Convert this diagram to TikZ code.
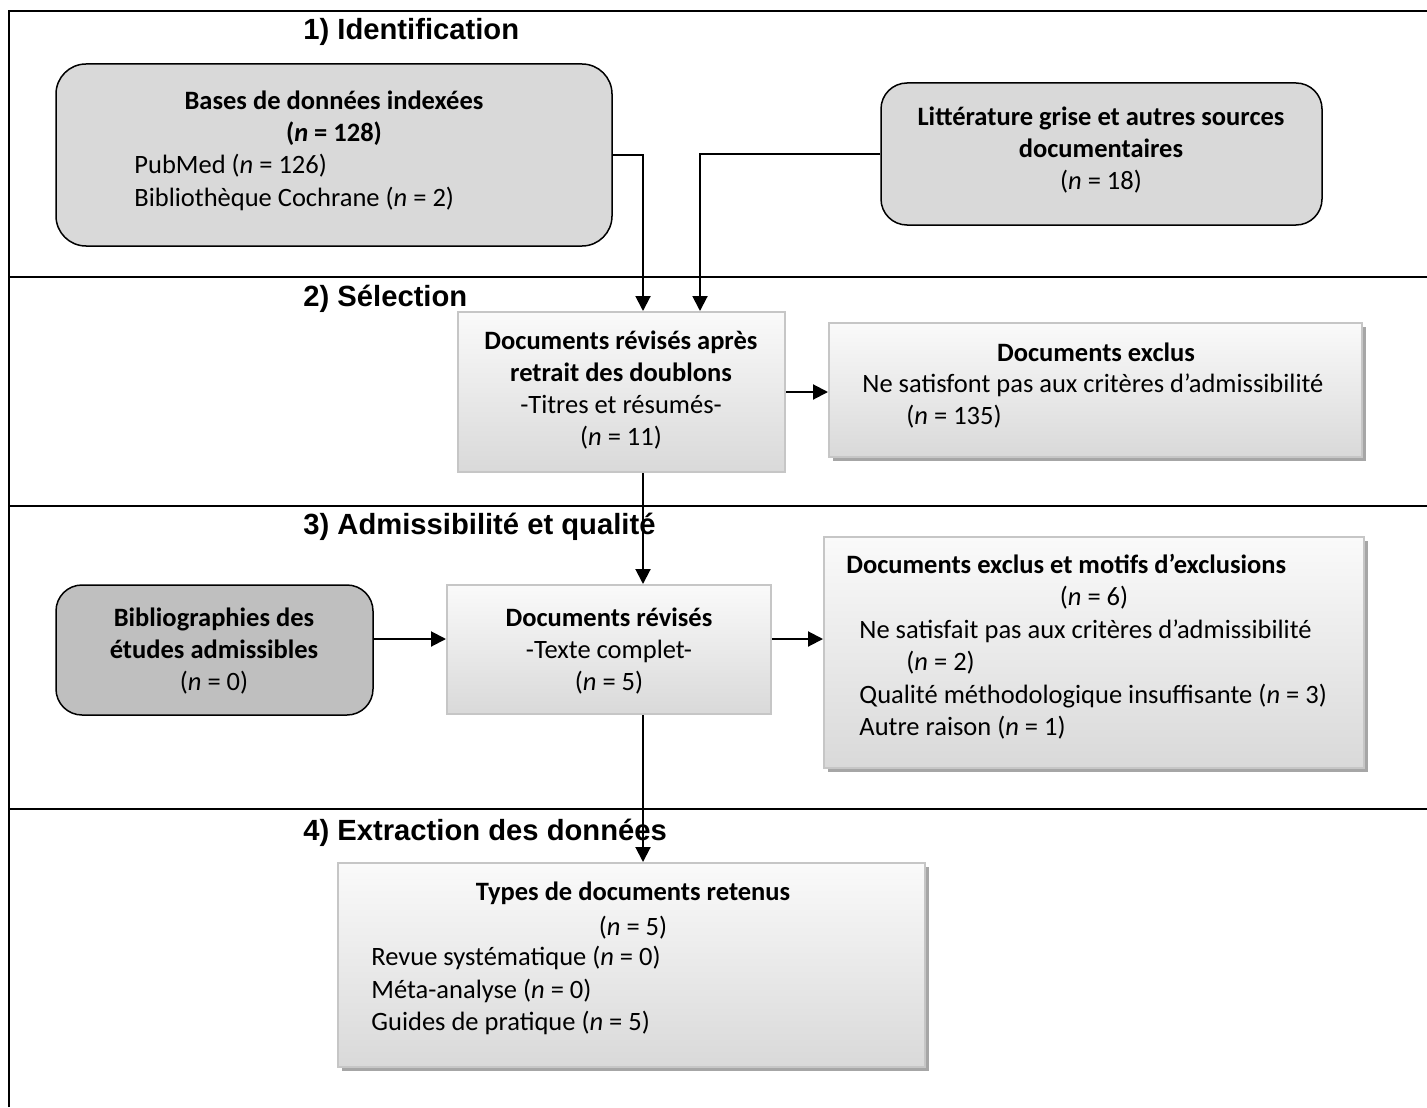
\documentclass[tikz,border=0pt]{standalone}
\usepackage{fontspec}
\setmainfont{Carlito}
\newfontfamily\headfont{Liberation Sans}
\usetikzlibrary{arrows.meta,shadows,calc}
\definecolor{boxgray}{HTML}{D9D9D9}
\definecolor{darkboxgray}{HTML}{BFBFBF}
\definecolor{edgegray}{HTML}{C6C6C6}
\definecolor{shadowgray}{HTML}{A6A6A6}
\definecolor{topgray}{HTML}{FAFAFA}
\definecolor{botgray}{HTML}{D9D9D9}
\begin{document}
\begin{tikzpicture}[x=0.5pt,y=-0.5pt,
 txt/.style={inner sep=0pt, font=\fontsize{13.25}{16}\selectfont},
 btxt/.style={inner sep=0pt, font=\fontsize{13.25}{16}\selectfont\bfseries},
 head/.style={inner sep=0pt, font=\fontsize{14.6}{17}\selectfont\headfont\bfseries, anchor=base west},
 rbox/.style={draw=black, line width=0.75pt, rounded corners=15pt, fill=boxgray, inner sep=0pt},
 gbox/.style={draw=edgegray, line width=1pt, top color=topgray, bottom color=botgray, inner sep=0pt},
 sbox/.style={gbox, drop shadow={shadow xshift=2pt, shadow yshift=-2pt, fill=shadowgray, opacity=1}},
 arr/.style={line width=1pt, -{Triangle[length=7.5pt,width=7.5pt]}},
 framelines/.style={line width=1.4pt}]
\useasboundingbox (0,0) rectangle (1427,1107);

% frame
\draw[framelines] (9,1107) -- (9,11) -- (1427,11);
\draw[framelines] (9,277) -- (1427,277);
\draw[framelines] (9,506) -- (1427,506);
\draw[framelines] (9,809) -- (1427,809);

% headings
\node[head] (t1) at (303,40) {1) Identification};
\node[head] (t2) at (303,306) {2) Sélection};
\node[head] (t3) at (303,534) {3) Admissibilité et qualité};
\node[head] (t4) at (303,840) {4) Extraction des données};

% boxes
\node[rbox, minimum width=278pt, minimum height=91pt] (A) at (334,155) {};
\node[rbox, rounded corners=13pt, minimum width=220.5pt, minimum height=71pt] (B) at (1101.5,154) {};
\node[gbox, minimum width=163.5pt, minimum height=80pt] (C) at (621.5,392) {};
\node[sbox, minimum width=266.5pt, minimum height=67pt] (D) at (1095.5,390) {};
\node[rbox, rounded corners=13pt, fill=darkboxgray, minimum width=158.5pt, minimum height=65pt] (E) at (214.5,650) {};
\node[gbox, minimum width=162pt, minimum height=64.5pt] (F) at (609,649.5) {};
\node[sbox, minimum width=270pt, minimum height=115.5pt] (G) at (1094,652.5) {};
\node[sbox, minimum width=293.5pt, minimum height=102pt] (H) at (631.5,965) {};

% texts A
\node[btxt, anchor=base] (a1) at (334,110) {Bases de données indexées};
\node[btxt, anchor=base] (a2) at (334,142) {(\textit{n} = 128)};
\node[txt, anchor=base west] (a3) at (134,174) {PubMed (\textit{n} = 126)};
\node[txt, anchor=base west] (a4) at (134,206) {Bibliothèque Cochrane (\textit{n} = 2)};
% texts B
\node[btxt, anchor=base] (b1) at (1101,126) {Littérature grise et autres sources};
\node[btxt, anchor=base] (b2) at (1101,158) {documentaires};
\node[txt, anchor=base] (b3) at (1101,190) {(\textit{n} = 18)};
% texts C
\node[btxt, anchor=base] (c1) at (621,349) {Documents révisés après};
\node[btxt, anchor=base] (c2) at (621,381) {retrait des doublons};
\node[txt, anchor=base] (c3) at (621,413) {-Titres et résumés-};
\node[txt, anchor=base] (c4) at (621,445) {(\textit{n} = 11)};
% texts D
\node[btxt, anchor=base] (d1) at (1096,361) {Documents exclus};
\node[txt, anchor=base west] (d2) at (862,392) {Ne satisfont pas aux critères d’admissibilité};
\node[txt, anchor=base west] (d3) at (906,424) {(\textit{n} = 135)};
% texts E
\node[btxt, anchor=base] (e1) at (214,626) {Bibliographies des};
\node[btxt, anchor=base] (e2) at (214,658) {études admissibles};
\node[txt, anchor=base] (e3) at (214,690) {(\textit{n} = 0)};
% texts F
\node[btxt, anchor=base] (f1) at (609,626) {Documents révisés};
\node[txt, anchor=base] (f2) at (609,658) {-Texte complet-};
\node[txt, anchor=base] (f3) at (609,690) {(\textit{n} = 5)};
% texts G
\node[btxt, anchor=base west] (g1) at (846,573) {Documents exclus et motifs d’exclusions};
\node[txt, anchor=base] (g2) at (1094,605) {(\textit{n} = 6)};
\node[txt, anchor=base west] (g3) at (859,638) {Ne satisfait pas aux critères d’admissibilité};
\node[txt, anchor=base west] (g4) at (906,670) {(\textit{n} = 2)};
\node[txt, anchor=base west] (g5) at (859,703) {Qualité méthodologique insuffisante (\textit{n} = 3)};
\node[txt, anchor=base west] (g6) at (859,735) {Autre raison (\textit{n} = 1)};
% texts H
\node[btxt, anchor=base] (h1) at (633,900) {Types de documents retenus};
\node[txt, anchor=base] (h2) at (633,935) {(\textit{n} = 5)};
\node[txt, anchor=base west] (h3) at (371,965) {Revue systématique (\textit{n} = 0)};
\node[txt, anchor=base west] (h4) at (371,998) {Méta-analyse (\textit{n} = 0)};
\node[txt, anchor=base west] (h5) at (371,1030) {Guides de pratique (\textit{n} = 5)};

% connectors
\coordinate (j1) at (643,155);
\coordinate (j2) at (700,154);
\coordinate (ya) at (0,639);
\draw[arr] (A.east) -- (j1) -- (j1 |- C.north);
\draw[arr] (B.west) -- (j2) -- (j2 |- C.north);
\draw[arr] (C.east) -- (C.east -| D.west);
\draw[arr] (j1 |- C.south) -- (j1 |- F.north);
\draw[arr] (E.east |- ya) -- (F.west |- ya);
\draw[arr] (F.east |- ya) -- (G.west |- ya);
\draw[arr] (j1 |- F.south) -- (j1 |- H.north);
\end{tikzpicture}
\end{document}
